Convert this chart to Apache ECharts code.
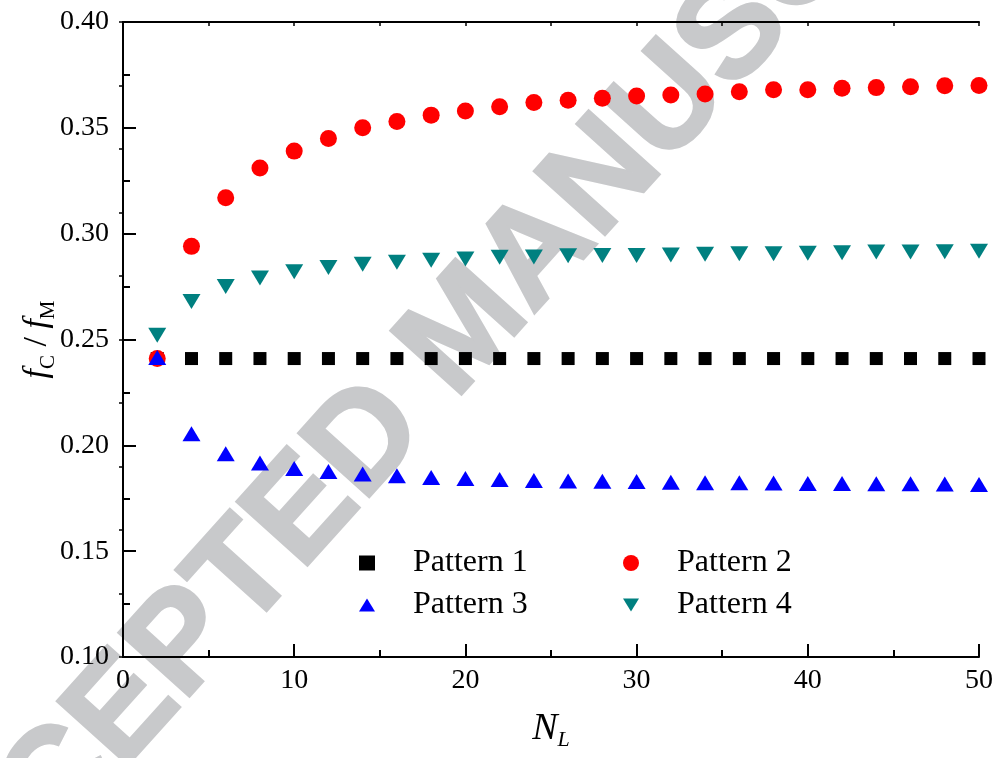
<!DOCTYPE html>
<html>
<head>
<meta charset="utf-8">
<script src="https://cdn.jsdelivr.net/npm/echarts@6/dist/echarts.min.js"></script>
<style>
html,body{margin:0;padding:0;background:#fff;}
#chart{width:996px;height:758px;}
</style>
</head>
<body>
<div id="chart"></div>
<script>
// ---- data ----
const NL = [2,4,6,8,10,12,14,16,18,20,22,24,26,28,30,32,34,36,38,40,42,44,46,48,50];
const pattern1 = [0.241,0.241,0.241,0.241,0.241,0.241,0.241,0.241,0.241,0.241,0.241,0.241,0.241,0.241,0.241,0.241,0.241,0.241,0.241,0.241,0.241,0.241,0.241,0.241,0.241];
const pattern2 = [0.241,0.294,0.317,0.331,0.339,0.345,0.350,0.353,0.356,0.358,0.360,0.362,0.363,0.364,0.365,0.3655,0.366,0.367,0.368,0.368,0.3687,0.369,0.3694,0.3699,0.370];
const pattern3 = [0.2415,0.2055,0.196,0.1917,0.189,0.1876,0.1864,0.1856,0.1848,0.1843,0.1838,0.1834,0.1832,0.183,0.1829,0.1826,0.1823,0.1823,0.1822,0.182,0.182,0.1819,0.1819,0.1817,0.1815];
const pattern4 = [0.252,0.268,0.275,0.279,0.282,0.284,0.2855,0.2865,0.2874,0.288,0.2888,0.289,0.2896,0.2897,0.2897,0.2899,0.2903,0.2905,0.2905,0.2908,0.291,0.2913,0.2913,0.2915,0.2917];
const seriesNames = ['Pattern 1','Pattern 2','Pattern 3','Pattern 4'];
const xTicks = {min:0, max:50, interval:10};
const yTicks = {min:0.10, max:0.40, interval:0.05};

const pairs = (ys) => NL.map((x,i)=>[x, ys[i]]);
const serif = 'Liberation Serif, Times New Roman, serif';

const chart = echarts.init(document.getElementById('chart'));
const axisLine = {show:true, lineStyle:{color:'#000', width:2}};
const legendText = {fontFamily:serif, fontSize:32, lineHeight:30, color:'#000', padding:[0,0,0,33]};
chart.setOption({
  animation:false,
  backgroundColor:'#fff',
  grid:{left:123, right:16, top:22, bottom:101, containLabel:false},
  graphic:[{
    type:'text', x:468, y:330, rotation:48*Math.PI/180, z:-10, silent:true,
    style:{text:'ACCEPTED MANUSCRIPT', x:0, y:0, align:'center', verticalAlign:'middle',
      font:'bold 138px "Liberation Sans", Arial, sans-serif', fill:'#c8c9cb',
      stroke:'#c8c9cb', lineWidth:3}
  }],
  xAxis:[{
    type:'value', position:'bottom', min:xTicks.min, max:xTicks.max, interval:xTicks.interval,
    axisLine:axisLine,
    axisTick:{show:true, inside:true, length:13, lineStyle:{color:'#000', width:2}},
    minorTick:{show:true, splitNumber:2, length:7, lineStyle:{color:'#000', width:2}},
    splitLine:{show:false},
    axisLabel:{color:'#000', fontFamily:serif, fontSize:28, margin:10},
    name:'{i|N}{s|L}', nameLocation:'middle', nameGap:50, nameMoveOverlap:false,
    nameTextStyle:{rich:{
      i:{fontFamily:serif, fontStyle:'italic', fontSize:38, lineHeight:44, color:'#000'},
      s:{fontFamily:serif, fontStyle:'italic', fontSize:22, lineHeight:20, verticalAlign:'bottom', color:'#000'}
    }}
  },{
    type:'value', position:'top', min:0, max:10, interval:1,
    axisLine:axisLine,
    axisTick:{show:true, inside:true, length:4, lineStyle:{color:'#000', width:1.5}},
    axisLabel:{show:false}, splitLine:{show:false}
  }],
  yAxis:[{
    type:'value', position:'left', min:yTicks.min, max:yTicks.max, interval:yTicks.interval,
    axisLine:axisLine,
    axisTick:{show:true, inside:true, length:13, lineStyle:{color:'#000', width:2}},
    minorTick:{show:true, splitNumber:2, length:7, lineStyle:{color:'#000', width:2}},
    splitLine:{show:false},
    axisLabel:{color:'#000', fontFamily:serif, fontSize:28, margin:14, formatter:(v)=>v.toFixed(2)},
    name:'{i|f}{s|C}{n| / }{i|f}{s|M}', nameLocation:'middle', nameGap:64, nameRotate:90, nameMoveOverlap:false,
    nameTextStyle:{rich:{
      i:{fontFamily:serif, fontStyle:'italic', fontSize:34, lineHeight:44, color:'#000'},
      n:{fontFamily:serif, fontSize:34, lineHeight:44, color:'#000'},
      s:{fontFamily:serif, fontSize:21, lineHeight:20, verticalAlign:'bottom', color:'#000'}
    }}
  },{
    type:'value', position:'right', min:0, max:10, interval:1,
    axisLine:axisLine,
    axisTick:{show:true, inside:true, length:4, lineStyle:{color:'#000', width:1.5}},
    axisLabel:{show:false}, splitLine:{show:false}
  }],
  legend:[{
    orient:'vertical', left:359, top:547, padding:0, itemGap:10,
    itemWidth:16, itemHeight:15,
    data:[{name:'Pattern 1', icon:'rect'}, {name:'Pattern 3', icon:'path://M5,0 L10,8 L0,8 Z'}],
    textStyle:legendText
  },{
    orient:'vertical', left:623, top:547, padding:0, itemGap:10,
    itemWidth:16, itemHeight:16,
    data:[{name:'Pattern 2', icon:'circle'}, {name:'Pattern 4', icon:'path://M0,0 L10,0 L5,8 Z'}],
    textStyle:legendText
  }],
  series:[
    {name:seriesNames[0], type:'scatter', data:pairs(pattern1), symbol:'rect', symbolSize:13, itemStyle:{color:'#000000', opacity:1}},
    {name:seriesNames[1], type:'scatter', data:pairs(pattern2), symbol:'circle', symbolSize:17, itemStyle:{color:'#ff0000', opacity:1}},
    {name:seriesNames[2], type:'scatter', data:pairs(pattern3), symbol:'triangle', symbolSize:[18,15], itemStyle:{color:'#0000ff', opacity:1}},
    {name:seriesNames[3], type:'scatter', data:pairs(pattern4), symbol:'triangle', symbolRotate:180, symbolSize:[18,15], itemStyle:{color:'#008080', opacity:1}}
  ]
});
</script>
</body>
</html>
